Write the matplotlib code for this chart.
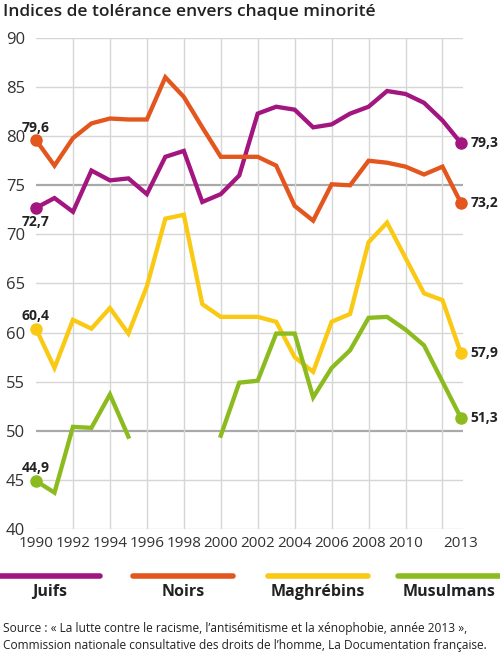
import numpy as np
import matplotlib.pyplot as plt
from matplotlib.lines import Line2D

plt.rcParams['font.family'] = ['Open Sans', 'DejaVu Sans']

years = np.arange(1990, 2014)

juifs = [72.7, 73.7, 72.3, 76.5, 75.5, 75.7, 74.1, 77.9, 78.5, 73.3, 74.1, 76.0,
         82.3, 83.0, 82.7, 80.9, 81.2, 82.3, 83.0, 84.6, 84.3, 83.4, 81.6, 79.3]
noirs = [79.6, 77.0, 79.8, 81.3, 81.8, 81.7, 81.7, 86.0, 84.0, 80.9, 77.9, 77.9,
         77.9, 77.0, 72.9, 71.4, 75.1, 75.0, 77.5, 77.3, 76.9, 76.1, 76.9, 73.2]
maghrebins = [60.4, 56.4, 61.3, 60.4, 62.5, 59.9, 64.7, 71.6, 72.0, 62.9, 61.6, 61.6,
              61.6, 61.1, 57.5, 56.0, 61.1, 61.9, 69.2, 71.2, 67.6, 64.0, 63.3, 57.9]
musulmans = [44.9, 43.7, 50.4, 50.3, 53.7, 49.4, np.nan, np.nan, np.nan, np.nan, 49.5, 54.9,
             55.1, 59.9, 59.9, 53.4, 56.4, 58.2, 61.5, 61.6, 60.3, 58.7, 55.0, 51.3]

names = ["Juifs", "Noirs", "Maghrébins", "Musulmans"]
colors = ["#a3157f", "#e3561d", "#f9c914", "#8cbb1f"]
series = [juifs, noirs, maghrebins, musulmans]

fig = plt.figure(figsize=(5, 6.55), dpi=100)
ax = fig.add_axes([0.072, 0.1924, 0.854, 0.7496])
ax.set_xlim(1990, 2013.11)
ax.set_ylim(40, 90)
for s in ax.spines.values():
    s.set_visible(False)

# grid
for v in range(40, 95, 5):
    if v in (50, 75):
        ax.axhline(v, color="#a9a9a9", lw=1.6, zorder=1)
    else:
        ax.axhline(v, color="#d6d6d6", lw=1.0, zorder=1)
for yr in range(1992, 2013, 2):
    ax.axvline(yr, color="#d6d6d6", lw=1.0, zorder=1)

ax.set_yticks(range(40, 95, 5))
ax.set_xticks(list(range(1990, 2011, 2)) + [2013])
ax.tick_params(length=0, colors="#333333")
ax.tick_params(axis="y", pad=8, labelsize=12)
ax.tick_params(axis="x", pad=5, labelsize=11)

for vals, c in zip(series, colors):
    ax.plot(years, vals, color=c, lw=3.1, solid_joinstyle="miter", zorder=3, clip_on=False)
    ax.plot([years[0], years[-1]], [vals[0], vals[-1]], "o", color=c, ms=8,
            zorder=4, clip_on=False)

def fmt(v):
    return f"{v:.1f}".replace(".", ",")

# start labels
offsets = [-14, 12, 12, 12]
for vals, off in zip(series, offsets):
    ax.annotate(fmt(vals[0]), (years[0], vals[0]), xytext=(0, off * 0.75),
                textcoords="offset points", ha="center", va="center",
                fontsize=10, fontweight="bold", color="#222222")
# end labels
for vals in series:
    ax.annotate(fmt(vals[-1]), (years[-1], vals[-1]), xytext=(7, 0),
                textcoords="offset points", ha="left", va="center",
                fontsize=10, fontweight="bold", color="#222222")

fig.text(0.006, 0.981, "Indices de tolérance envers chaque minorité",
         fontsize=12.5, fontweight="semibold", va="center", color="#222222")

# legend
leg_x = [(0.0, 0.2), (0.266, 0.466), (0.536, 0.736), (0.796, 1.0)]
for (x0, x1), c, n in zip(leg_x, colors, names):
    fig.add_artist(Line2D([x0, x1], [0.1206, 0.1206], color=c, lw=4,
                          solid_capstyle="round", transform=fig.transFigure))
    fig.text((x0 + x1) / 2, 0.096, n, ha="center", va="center",
             fontsize=11.5, fontweight="bold", color="#222222")

fig.text(0.006, 0.041,
         "Source : « La lutte contre le racisme, l’antisémitisme et la xénophobie, année 2013 »,",
         fontsize=8.6, va="center", color="#222222")
fig.text(0.006, 0.015,
         "Commission nationale consultative des droits de l’homme, La Documentation française.",
         fontsize=8.6, va="center", color="#222222")

fig.savefig("out.png", dpi=100)
